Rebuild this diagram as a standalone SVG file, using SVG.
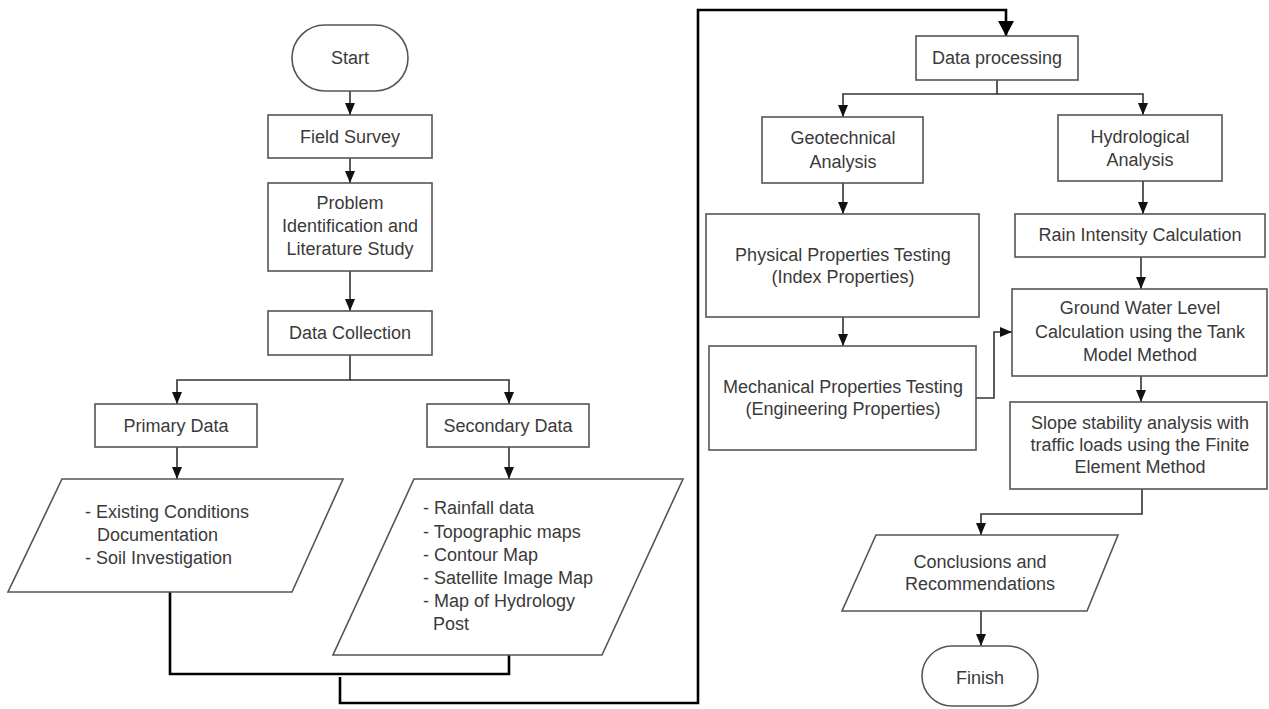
<svg xmlns="http://www.w3.org/2000/svg" width="1269" height="709" viewBox="0 0 1269 709">
<defs>
<style>
.box{fill:#fff;stroke:#555;stroke-width:1.6}
.t{font-family:"Liberation Sans",Arial,sans-serif;font-size:18px;fill:#3a3a3a;text-anchor:middle}
.tl{font-family:"Liberation Sans",Arial,sans-serif;font-size:18px;fill:#3a3a3a}
.c{fill:none;stroke:#333;stroke-width:1.6}
.ck{fill:none;stroke:#000;stroke-width:2.6}
</style>
<marker id="ah" viewBox="0 0 12 10" markerWidth="12" markerHeight="10" refX="12" refY="5" orient="auto" markerUnits="userSpaceOnUse">
<path d="M0,0 L12,5 L0,10 z" fill="#111"/>
</marker>
<marker id="ahL" viewBox="0 0 15 16" markerWidth="15" markerHeight="16" refX="15" refY="8" orient="auto" markerUnits="userSpaceOnUse">
<path d="M0,0 L15,8 L0,16 z" fill="#000"/>
</marker>
</defs>
<rect width="1269" height="709" fill="#fff"/>

<g id="connectors">
<path class="c" d="M350,91 V115" marker-end="url(#ah)"/>
<path class="c" d="M350,158 V183" marker-end="url(#ah)"/>
<path class="c" d="M350,271 V311" marker-end="url(#ah)"/>
<path class="c" d="M350,355 V380 H177 V404" marker-end="url(#ah)"/>
<path class="c" d="M350,380 H509 V404" marker-end="url(#ah)"/>
<path class="c" d="M177,447 V479" marker-end="url(#ah)"/>
<path class="c" d="M509,447 V479" marker-end="url(#ah)"/>
<path class="ck" d="M170,592 V674 H509 V655"/>
<path class="ck" d="M340,677 V703 H698 V10 H1006 V36" marker-end="url(#ahL)"/>
<path class="c" d="M997,80 V94 H843 V117" marker-end="url(#ah)"/>
<path class="c" d="M997,94 H1143 V115" marker-end="url(#ah)"/>
<path class="c" d="M843,183 V214" marker-end="url(#ah)"/>
<path class="c" d="M843,317 V346" marker-end="url(#ah)"/>
<path class="c" d="M1143,181 V214" marker-end="url(#ah)"/>
<path class="c" d="M1141,257 V289" marker-end="url(#ah)"/>
<path class="c" d="M976,398 H994 V332 H1012" marker-end="url(#ah)"/>
<path class="c" d="M1141,376 V402" marker-end="url(#ah)"/>
<path class="c" d="M1142,489 V514 H981 V535" marker-end="url(#ah)"/>
<path class="c" d="M981,611 V646" marker-end="url(#ah)"/>
</g>

<g id="start">
<rect class="box" x="292" y="25" width="116" height="66" rx="33" ry="33"/>
<text class="t" x="350" y="64">Start</text>
</g>
<g id="field-survey">
<rect class="box" x="268" y="115" width="164" height="43"/>
<text class="t" x="350" y="143">Field Survey</text>
</g>
<g id="problem">
<rect class="box" x="268" y="183" width="164" height="88"/>
<text class="t" x="350" y="209">Problem</text>
<text class="t" x="350" y="232">Identification and</text>
<text class="t" x="350" y="255">Literature Study</text>
</g>
<g id="data-collection">
<rect class="box" x="268" y="311" width="164" height="44"/>
<text class="t" x="350" y="339">Data Collection</text>
</g>
<g id="primary-data">
<rect class="box" x="95" y="404" width="162" height="43"/>
<text class="t" x="176" y="432">Primary Data</text>
</g>
<g id="secondary-data">
<rect class="box" x="427" y="404" width="162" height="43"/>
<text class="t" x="508" y="432">Secondary Data</text>
</g>
<g id="primary-list">
<polygon class="box" points="62,479 343,479 292,592 8,592"/>
<text class="tl" x="85" y="518">- Existing Conditions</text>
<text class="tl" x="97" y="541">Documentation</text>
<text class="tl" x="85" y="564">- Soil Investigation</text>
</g>
<g id="secondary-list">
<polygon class="box" points="414,479 683,479 602,655 333,655"/>
<text class="tl" x="423" y="514">- Rainfall data</text>
<text class="tl" x="423" y="538">- Topographic maps</text>
<text class="tl" x="423" y="561">- Contour Map</text>
<text class="tl" x="423" y="584">- Satellite Image Map</text>
<text class="tl" x="423" y="607">- Map of Hydrology</text>
<text class="tl" x="433" y="630">Post</text>
</g>
<g id="data-processing">
<rect class="box" x="916" y="36" width="162" height="44"/>
<text class="t" x="997" y="64">Data processing</text>
</g>
<g id="geotechnical">
<rect class="box" x="762" y="117" width="161" height="66"/>
<text class="t" x="843" y="144">Geotechnical</text>
<text class="t" x="843" y="168">Analysis</text>
</g>
<g id="hydrological">
<rect class="box" x="1058" y="115" width="164" height="66"/>
<text class="t" x="1140" y="143">Hydrological</text>
<text class="t" x="1140" y="166">Analysis</text>
</g>
<g id="physical">
<rect class="box" x="706" y="214" width="273" height="103"/>
<text class="t" x="843" y="261">Physical Properties Testing</text>
<text class="t" x="843" y="283">(Index Properties)</text>
</g>
<g id="mechanical">
<rect class="box" x="709" y="346" width="267" height="104"/>
<text class="t" x="843" y="393">Mechanical Properties Testing</text>
<text class="t" x="843" y="415">(Engineering Properties)</text>
</g>
<g id="rain">
<rect class="box" x="1015" y="214" width="250" height="43"/>
<text class="t" x="1140" y="241">Rain Intensity Calculation</text>
</g>
<g id="groundwater">
<rect class="box" x="1012" y="289" width="255" height="87"/>
<text class="t" x="1140" y="314">Ground Water Level</text>
<text class="t" x="1140" y="338">Calculation using the Tank</text>
<text class="t" x="1140" y="361">Model Method</text>
</g>
<g id="slope">
<rect class="box" x="1010" y="402" width="257" height="87"/>
<text class="t" x="1140" y="429">Slope stability analysis with</text>
<text class="t" x="1140" y="451">traffic loads using the Finite</text>
<text class="t" x="1140" y="473">Element Method</text>
</g>
<g id="conclusions">
<polygon class="box" points="876,535 1118,535 1087,611 842,611"/>
<text class="t" x="980" y="568">Conclusions and</text>
<text class="t" x="980" y="590">Recommendations</text>
</g>
<g id="finish">
<rect class="box" x="922" y="646" width="116" height="60" rx="30" ry="30"/>
<text class="t" x="980" y="684">Finish</text>
</g>
</svg>
